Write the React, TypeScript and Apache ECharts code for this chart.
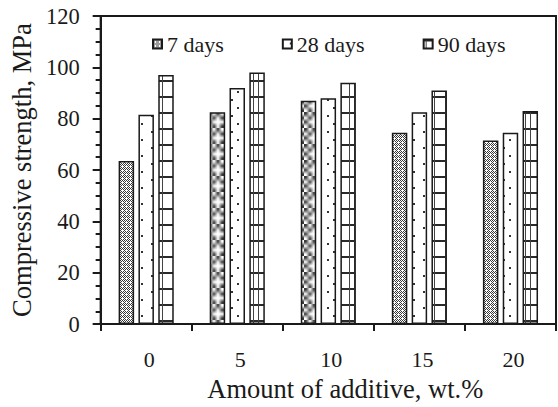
import React, { useEffect, useRef } from "react";
import * as echarts from "echarts";

const categories = ["0", "5", "10", "15", "20"];
const seriesNames = ["7 days", "28 days", "90 days"];
const days7 = [63.5, 82.5, 87, 74.5, 71.5];
const days28 = [81.5, 92, 88, 82.5, 74.5];
const days90 = [97, 98, 94, 91, 83];
const yMin = 0;
const yMax = 120;
const yInterval = 20;
const xTitle = "Amount of additive, wt.%";
const yTitle = "Compressive strength, MPa";

const INK = "#1a1a1a";
const FONT = "Liberation Serif";

function makeCanvas(w: number, h: number, draw: (c: CanvasRenderingContext2D) => void) {
  const cv = document.createElement("canvas");
  cv.width = w;
  cv.height = h;
  const ctx = cv.getContext("2d")!;
  ctx.fillStyle = "#ffffff";
  ctx.fillRect(0, 0, w, h);
  draw(ctx);
  return cv;
}

function buildPatterns() {
  const p7 = makeCanvas(4, 4, (c) => {
    c.fillStyle = "#3a3a3a";
    for (let y = 0; y < 4; y++)
      for (let x = 0; x < 4; x++) if ((x + y) % 2 === 0 && !(x === 2 && y === 2)) c.fillRect(x, y, 1, 1);
  });
  const p28 = makeCanvas(16, 16, (c) => {
    c.fillStyle = "#333333";
    c.fillRect(7, 3, 2, 2);
    c.fillRect(13, 11, 2, 2);
  });
  const p90 = makeCanvas(16, 16, (c) => {
    c.fillStyle = "#2a2a2a";
    c.fillRect(0, 0, 16, 2);
    c.fillStyle = "#444444";
    c.fillRect(2, 0, 1, 16);
    c.fillRect(13, 0, 1, 16);
  });
  return [p7, p28, p90];
}

export default function App() {
  const ref = useRef<HTMLDivElement>(null);
  useEffect(() => {
    if (!ref.current) return;
    const chart = echarts.init(ref.current, undefined, { renderer: "svg" });
    const pats = buildPatterns();
    const values = [days7, days28, days90];

    const build = (layouts: any[][] | null): any => ({
      animation: false,
      backgroundColor: "#ffffff",
      textStyle: { fontFamily: FONT },
      grid: {
        left: 97,
        right: 2,
        top: 16,
        bottom: 82,
        show: true,
        borderColor: INK,
        borderWidth: 2,
        backgroundColor: "transparent",
      },
      legend: {
        left: 147,
        top: 28,
        icon: "rect",
        itemWidth: 9,
        itemHeight: 9,
        itemGap: 58,
        textStyle: { fontFamily: FONT, fontSize: 22, color: INK },
        data: seriesNames,
      },
      xAxis: {
        type: "category",
        data: categories,
        name: xTitle,
        nameLocation: "middle",
        nameGap: 49,
        nameTextStyle: { fontFamily: FONT, fontSize: 26.5, color: INK, padding: [0, 0, 0, 34] },
        axisLine: { show: true, lineStyle: { color: INK, width: 2 } },
        axisTick: { show: true, length: 7, lineStyle: { color: INK, width: 2 } },
        axisLabel: { margin: 24, fontFamily: FONT, fontSize: 22, color: INK, padding: [0, 0, 0, 6] },
        splitLine: { show: false },
      },
      yAxis: {
        type: "value",
        min: yMin,
        max: yMax,
        interval: yInterval,
        name: yTitle,
        nameLocation: "middle",
        nameGap: 64,
        nameTextStyle: { fontFamily: FONT, fontSize: 26.5, color: INK, padding: [0, 0, 0, 0] },
        axisLine: { show: true, lineStyle: { color: INK, width: 2 } },
        axisTick: { show: true, length: 8, lineStyle: { color: INK, width: 2 } },
        minorTick: { show: true, splitNumber: 4, length: 5, lineStyle: { color: INK, width: 2 } },
        splitLine: { show: false },
        minorSplitLine: { show: false },
        axisLabel: { margin: 21, fontFamily: FONT, fontSize: 22.5, color: INK },
      },
      series: seriesNames.map((name, s) => ({
        type: "bar",
        name,
        barWidth: "17%",
        barGap: "28%",
        itemStyle: {
          color: { image: pats[s], repeat: "repeat" },
          borderColor: INK,
          borderWidth: 1.5,
        },
        data: values[s].map((v, i) => {
          if (!layouts) return v;
          const l = layouts[s][i];
          const x = Math.round(Math.min(l.x, l.x + l.width));
          const base = Math.round(Math.max(l.y, l.y + l.height));
          return {
            value: v,
            itemStyle: { color: { image: pats[s], repeat: "repeat", x: x, y: base } },
          };
        }),
      })),
    });

    chart.setOption(build(null));
    try {
      const model: any = (chart as any).getModel();
      const layouts = seriesNames.map((_, s) => {
        const data = model.getSeriesByIndex(s).getData();
        return values[s].map((_, i) => data.getItemLayout(i));
      });
      if (layouts.every((arr) => arr.every((l: any) => l && isFinite(l.x)))) {
        chart.setOption(build(layouts));
      }
    } catch (e) {
      // keep first render
    }
    return () => chart.dispose();
  }, []);
  return (
    <div
      ref={ref}
      style={{ position: "fixed", left: 0, top: 0, width: 558, height: 407, background: "#fff" }}
    />
  );
}
